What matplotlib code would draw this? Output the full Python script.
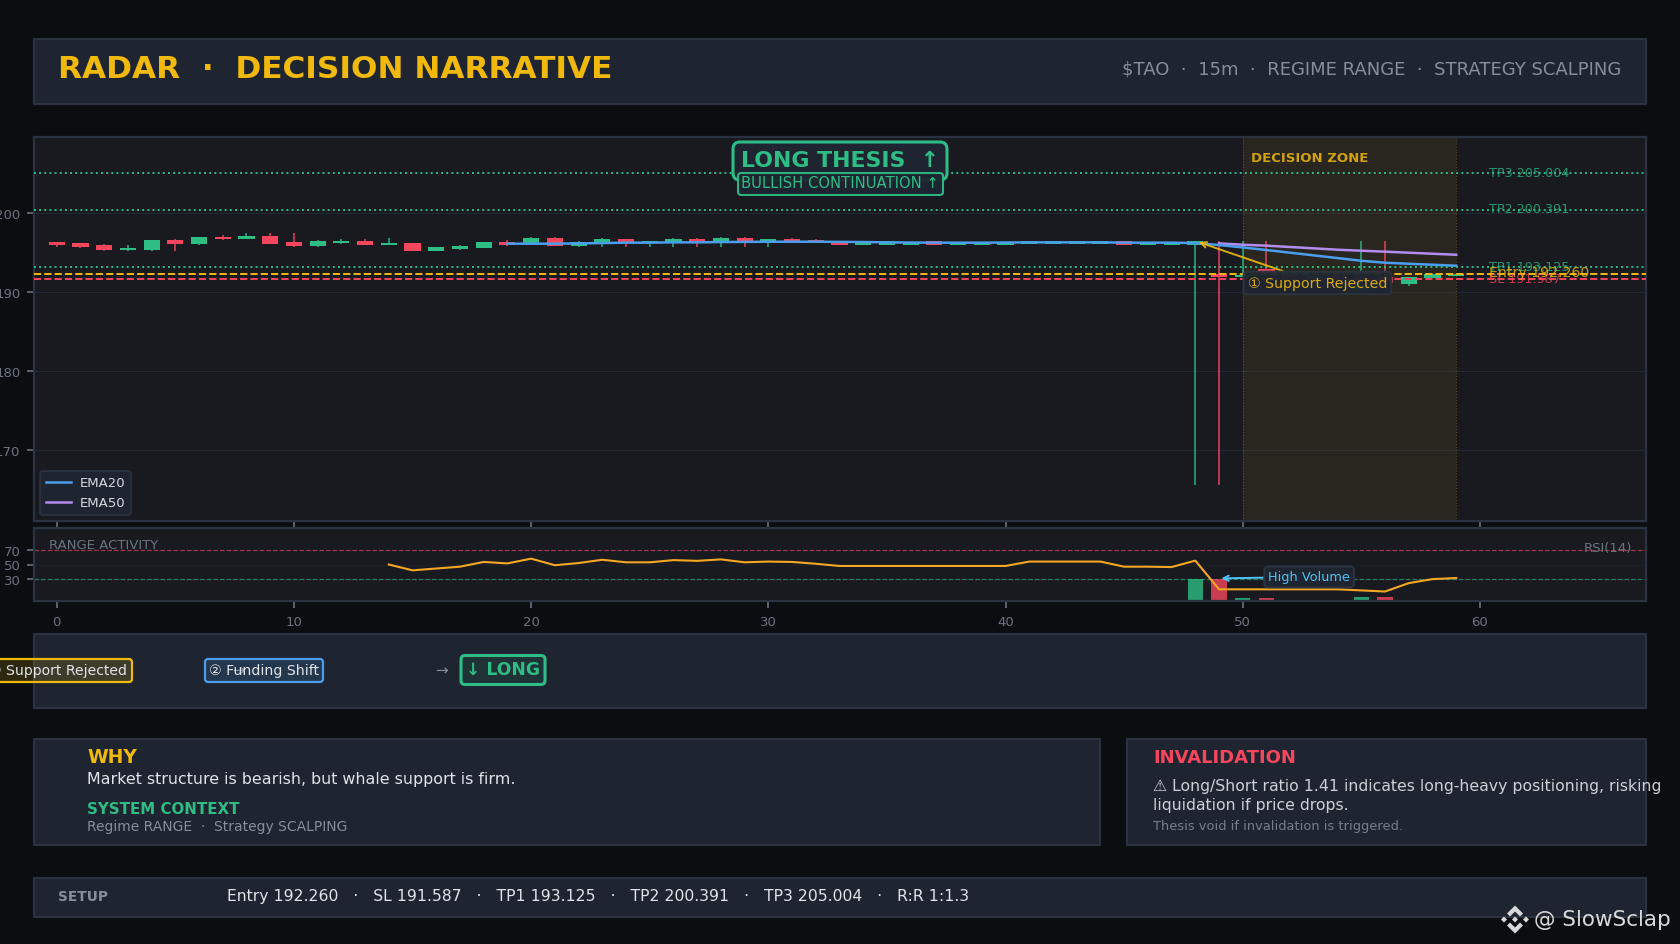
import matplotlib
matplotlib.use("Agg")
import matplotlib.pyplot as plt
from matplotlib.patches import FancyBboxPatch, Rectangle, Polygon

# ---------- data ----------
candle_open = [196.32,196.19,195.94,195.31,195.31,196.58,196.07,196.96,196.70,197.08,
               196.32,195.81,196.19,196.45,195.94,196.19,195.18,195.43,195.56,196.32,
               195.94,196.83,195.81,196.19,196.70,196.19,196.19,196.70,196.19,196.83,
               196.19,196.70,196.58,196.32,195.94,195.94,195.94,196.45,195.94,195.94,
               195.94,196.07,196.07,196.07,196.07,196.45,195.94,195.94,195.94,192.22,
               191.88,192.85,192.30,191.70,192.00,190.23,191.88,191.00,191.75,192.00]
candle_high = [196.32,196.19,196.07,195.94,196.58,196.70,196.96,197.21,197.46,197.46,
               197.46,196.58,196.70,196.70,196.83,196.19,195.69,195.94,196.32,196.58,
               196.96,196.96,196.45,196.83,196.70,196.45,196.83,196.83,196.96,196.96,
               196.70,196.83,196.70,196.32,196.32,196.45,196.32,196.45,196.32,196.32,
               196.32,196.45,196.45,196.45,196.45,196.45,196.28,196.28,196.45,196.45,
               196.45,196.45,192.30,192.00,192.00,196.45,196.45,191.88,192.22,192.22]
candle_low = [195.69,195.56,195.18,195.18,195.18,195.18,195.94,196.58,196.70,196.07,
              195.69,195.69,196.07,195.94,195.94,195.18,195.18,195.31,195.56,195.81,
              195.94,195.81,195.69,195.69,195.69,195.69,195.69,195.69,195.69,195.69,
              195.69,196.32,196.19,195.94,195.94,195.94,195.94,195.94,195.94,195.94,
              195.94,196.07,196.07,196.07,196.07,195.94,195.94,195.94,165.60,165.60,
              191.88,192.35,191.90,191.70,191.70,190.20,191.12,190.74,191.75,192.00]
candle_close = [195.94,195.69,195.31,195.56,196.58,196.07,196.96,196.70,197.08,196.07,
                195.81,196.45,196.45,195.94,196.19,195.18,195.69,195.81,196.32,195.94,
                196.83,195.81,196.32,196.70,196.19,196.45,196.70,196.19,196.83,196.32,
                196.70,196.32,196.19,195.94,196.32,196.45,196.32,195.94,196.32,196.32,
                196.32,196.45,196.45,196.45,196.45,195.94,196.28,196.28,196.45,191.88,
                192.14,192.35,191.90,192.00,191.70,190.87,191.12,191.88,192.22,192.22]
ema20_start = 19
ema20 = [196.11,196.11,196.11,196.15,196.19,196.24,196.24,196.28,196.28,196.32,
         196.34,196.36,196.36,196.36,196.34,196.32,196.28,196.26,196.24,196.24,
         196.24,196.26,196.28,196.28,196.28,196.28,196.24,196.24,196.24,196.19,
         195.94,195.64,195.31,194.97,194.63,194.29,193.95,193.70,193.57,193.45,193.32]
ema50_start = 49
ema50 = [196.15,195.98,195.86,195.69,195.52,195.35,195.22,195.10,194.97,194.84,194.71]
rsi_start = 14
rsi = [50,42,44.5,47,53.5,51.5,58,49,52,56.5,53,53,56,55,57,53,54,53.5,51,48,
       48,48,48,48,48,48,48,54,54,54,54,47,47,46.5,55.3,16,16,16,16,16,16,14.5,13,24.5,30,31.5]
volume_x = [4,5,9,10,21,27,28,29,48,49,50,51,55,56]
volume = [1.5,1.5,1.5,1.5,1.5,1.5,1.5,1.5,30,30,4,4,5.5,5.5]
volume_up = [True,False,False,False,False,False,True,False,True,False,True,False,True,False]

entry, stop = 192.260, 191.587
tp1, tp2, tp3 = 193.125, 200.391, 205.004
zone = (50, 59)
x_ticks = [0,10,20,30,40,50,60]
price_ticks = [170,180,190,200]
rsi_ticks = [30,50,70]

title = "RADAR  ·  DECISION NARRATIVE"
subtitle = r"\$TAO  ·  15m  ·  REGIME RANGE  ·  STRATEGY SCALPING"
setup = "Entry 192.260   ·   SL 191.587   ·   TP1 193.125   ·   TP2 200.391   ·   TP3 205.004   ·   R:R 1:1.3"

# ---------- style ----------
BG, PANEL, AXBG, EDGE = "#0b0e11", "#1e2530", "#181a20", "#2b3340"
GREEN, RED, GOLD, BLUE, PURPLE = "#2ebd85", "#f6465d", "#f0b90b", "#4a9eed", "#b48cf0"
GREY, LIGHT, DIM = "#848e9c", "#e0e3e8", "#6b7280"
W, H = 1680, 945

fig = plt.figure(figsize=(W/100, H/100), dpi=100, facecolor=BG)
plt.rcParams["font.family"] = ["DejaVu Sans"]

def px_axes(z):
    a = fig.add_axes([0, 0, 1, 1], zorder=z)
    a.set_xlim(0, W); a.set_ylim(H-1, -1); a.axis("off"); a.patch.set_alpha(0)
    return a

def rect_axes(l, t, r, b, **kw):
    return fig.add_axes([l/W, 1-(b+1)/H, (r-l)/W, (b-t)/H], **kw)

bg = px_axes(0)
fg = px_axes(5)
for l, t, r, b in [(34,38.5,1646,104),(34,634,1646,708),(34,739,1100,845),(1127,739,1646,845),(34,878,1646,917)]:
    bg.add_patch(Rectangle((l, t), r-l, b-t, fc=PANEL, ec=EDGE, lw=1.5))

# ---------- main chart ----------
x_min, x_max = -0.958, 67
ax = rect_axes(34, 137, 1646, 521, zorder=1, facecolor=AXBG)
ax.set_xlim(x_min, x_max); ax.set_ylim(161.0, 209.62)
ax.grid(axis="y", color=EDGE, lw=0.8, alpha=0.55); ax.set_axisbelow(True)
ax.axvspan(*zone, color=GOLD, alpha=0.08, lw=0, zorder=1)
for z_ in zone:
    ax.axvline(z_, color=GOLD, lw=0.8, ls=":", alpha=0.3, zorder=1)

idx = list(range(len(candle_open)))
cols = [GREEN if c >= o else RED for o, c in zip(candle_open, candle_close)]
ax.vlines(idx, candle_low, candle_high, colors=cols, lw=1.2, alpha=0.85, zorder=2)
ax.bar(idx, [max(abs(c-o), 0.12) for o, c in zip(candle_open, candle_close)],
       bottom=[min(o, c) for o, c in zip(candle_open, candle_close)],
       width=0.68, color=cols, lw=0, zorder=3)

ax.plot(range(ema50_start, ema50_start+len(ema50)), ema50, color=PURPLE, lw=1.8, label="EMA50", zorder=4)
ax.plot(range(ema20_start, ema20_start+len(ema20)), ema20, color=BLUE, lw=1.8, label="EMA20", zorder=4.1)

for v in (tp1, tp2, tp3):
    ax.axhline(v, color=GREEN, lw=1.4, ls=":", zorder=4.5)
ax.axhline(entry, color=GOLD, lw=1.4, ls="--", zorder=4.5)
ax.axhline(stop, color=RED, lw=1.4, ls="--", zorder=4.5)

lab_x = 60.4
for v, s in ((tp3, "TP3 205.004"), (tp2, "TP2 200.391"), (tp1, "TP1 193.125")):
    ax.text(lab_x, v+0.15, s, color=GREEN, alpha=0.75, fontsize=9.2, va="center", zorder=6)
ax.text(lab_x, stop+0.17, "SL 191.587", color=RED, alpha=0.75, fontsize=9.2, va="center", zorder=6)
ax.text(lab_x, entry+0.23, "Entry 192.260", color=GOLD, alpha=0.8, fontsize=10.2, va="center", zorder=6)

ax.text(50.35, 207.05, "DECISION ZONE", color=GOLD, alpha=0.85, fontsize=9.5, fontweight="bold", va="center", zorder=6)

ax.annotate("① Support Rejected", xy=(48.15, 196.3), xytext=(53.15, 191.14), color=GOLD, alpha=0.9,
            fontsize=10.15, ha="center", va="center", zorder=7,
            bbox=dict(boxstyle="round,pad=0.3", fc=PANEL, ec=EDGE, lw=1.5, alpha=0.95),
            arrowprops=dict(arrowstyle="->", color=GOLD, lw=1.4, alpha=0.9, shrinkA=0, shrinkB=0))

h, l = ax.get_legend_handles_labels()
leg = ax.legend(h[::-1], l[::-1], loc="lower left", bbox_to_anchor=(0.0, 0.0), fontsize=9.5, facecolor=PANEL,
                edgecolor=EDGE, framealpha=1, labelcolor="#d5d9df", handlelength=1.9,
                borderpad=0.42, labelspacing=0.52, handletextpad=0.65, borderaxespad=0.48)
leg.get_frame().set_linewidth(1.2)

# ---------- RSI / volume ----------
ax2 = rect_axes(34, 528, 1646, 601, zorder=1, facecolor=AXBG)
ax2.set_xlim(x_min, x_max); ax2.set_ylim(0, 100)
ax2.grid(axis="y", color=EDGE, lw=0.6, alpha=0.3); ax2.set_axisbelow(True)
ax2.axhline(70, color=RED, lw=0.9, ls="--", alpha=0.6)
ax2.axhline(30, color=GREEN, lw=0.9, ls="--", alpha=0.6)
ax2.bar(volume_x, volume, width=0.65, color=[GREEN if u else RED for u in volume_up], alpha=0.8, lw=0, zorder=2)
ax2.plot(range(rsi_start, rsi_start+len(rsi)), rsi, color="#f5a623", lw=1.5, zorder=3)
ax2.text(0.0095, 0.78, "RANGE ACTIVITY", transform=ax2.transAxes, color=DIM, fontsize=9.5, va="center")
ax2.text(0.9912, 0.73, "RSI(14)", transform=ax2.transAxes, color=DIM, fontsize=9.5, va="center", ha="right")
ax2.annotate("High Volume", xy=(49.1, 31), xytext=(52.8, 33), color="#4fc3f7", fontsize=9.3,
             ha="center", va="center", zorder=7,
             bbox=dict(boxstyle="round,pad=0.3", fc=PANEL, ec=EDGE, lw=1.5),
             arrowprops=dict(arrowstyle="->", color="#4fc3f7", lw=1.4, shrinkA=0, shrinkB=0))

for a in (ax, ax2):
    a.set_xticks(x_ticks)
    for s in a.spines.values():
        s.set_color(EDGE); s.set_linewidth(1.6)
    a.tick_params(colors=DIM, labelcolor=DIM, labelsize=9.5, length=4.8, width=1.2, pad=5)
ax.set_yticks(price_ticks); ax.tick_params(axis="x", labelbottom=False)
ax2.set_yticks(rsi_ticks)

# ---------- overlay text ----------
fg.text(58, 68.5, title, color=GOLD, fontsize=22.45, fontweight="bold", va="center")
fg.text(1621, 69, subtitle, color=GREY, fontsize=13.0, va="center", ha="right")

fg.add_patch(FancyBboxPatch((733, 142), 214, 38, boxstyle="round,pad=0,rounding_size=7", fc=PANEL, ec=GREEN, lw=2.2))
fg.text(840, 160.5, "LONG THESIS  ↑", color=GREEN, fontsize=15.85, fontweight="bold", ha="center", va="center")
fg.add_patch(FancyBboxPatch((738, 173), 205, 22, boxstyle="round,pad=0,rounding_size=3", fc=PANEL, ec=GREEN, lw=1.5, alpha=0.95))
fg.text(840, 183.0, "BULLISH CONTINUATION ↑", color=GREEN, fontsize=10.6, ha="center", va="center")

y_flow = 670.3
fg.text(238, y_flow, "→", color=GREY, fontsize=10.5, ha="center", va="center")
fg.add_patch(FancyBboxPatch((-12, 659), 144, 23, boxstyle="round,pad=0,rounding_size=3", fc=GOLD+"28", ec=GOLD, lw=1.6))
fg.text(57.5, y_flow, "① Support Rejected", color=LIGHT, fontsize=10.1, ha="center", va="center", clip_on=False)
fg.add_patch(FancyBboxPatch((205, 659), 118, 23, boxstyle="round,pad=0,rounding_size=3", fc=BLUE+"28", ec=BLUE, lw=1.6))
fg.text(264, y_flow, "② Funding Shift", color=LIGHT, fontsize=10.2, ha="center", va="center")
fg.text(442, y_flow, "→", color=GREY, fontsize=11, ha="center", va="center")
fg.add_patch(FancyBboxPatch((461, 655.5), 84, 29, boxstyle="round,pad=0,rounding_size=4", fc=GREEN+"18", ec=GREEN, lw=2.2))
fg.text(503, y_flow-1, "↓ LONG", color=GREEN, fontsize=12.3, fontweight="bold", ha="center", va="center")

fg.text(87, 757, "WHY", color=GOLD, fontsize=13.5, fontweight="bold", va="center")
fg.text(87, 779, "Market structure is bearish, but whale support is firm.", color=LIGHT, fontsize=11.45, va="center")
fg.text(87, 809, "SYSTEM CONTEXT", color=GREEN, fontsize=10.85, fontweight="bold", va="center")
fg.text(87, 826, "Regime RANGE  ·  Strategy SCALPING", color=GREY, fontsize=10.0, va="center")

fg.text(1153, 757, "INVALIDATION", color=RED, fontsize=13.0, fontweight="bold", va="center")
fg.text(1153, 785.5, "⚠ Long/Short ratio 1.41 indicates long-heavy positioning, risking", color=LIGHT, alpha=0.9, fontsize=11.3, va="center", clip_on=False)
fg.text(1153, 804.5, "liquidation if price drops.", color=LIGHT, alpha=0.9, fontsize=11.3, va="center")
fg.text(1153, 825.5, "Thesis void if invalidation is triggered.", color=GREY, alpha=0.85, fontsize=9.4, va="center")

fg.text(58, 896, "SETUP", color=GREY, fontsize=9.9, fontweight="bold", va="center")
fg.text(227, 896, setup, color=LIGHT, fontsize=11.22, va="center")

# ---------- watermark ----------
WM = "#d9d9d9"
fg.text(1534, 919.5, "@ SlowSclap", color=WM, fontsize=15.5, va="center")
cx, cy, s = 1515, 919.5, 1.0
shapes = [
    [(0,-14),(8,-6),(5,-3),(0,-8),(-5,-3),(-8,-6)],
    [(0,14),(8,6),(5,3),(0,8),(-5,3),(-8,6)],
    [(-14,0),(-11,-3),(-8,0),(-11,3)],
    [(14,0),(11,-3),(8,0),(11,3)],
    [(0,-3),(3,0),(0,3),(-3,0)],
]
for pts in shapes:
    fg.add_patch(Polygon([(cx+p*s, cy+q*s) for p, q in pts], fc=WM, lw=0))

fig.savefig("out.png", dpi=100, facecolor=BG)
